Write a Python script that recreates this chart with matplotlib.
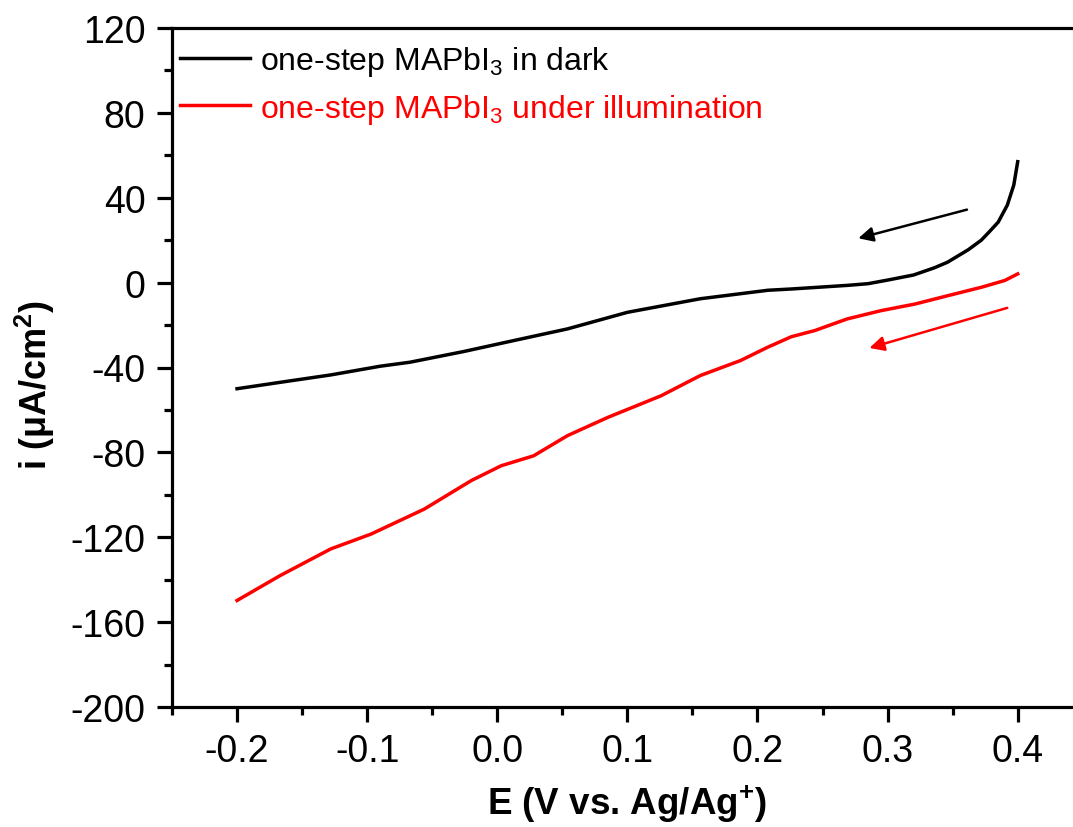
import matplotlib
matplotlib.use("Agg")
import matplotlib.pyplot as plt
from matplotlib.ticker import MultipleLocator

plt.rcParams['font.family'] = ['Liberation Sans', 'DejaVu Sans']
plt.rcParams['mathtext.default'] = 'regular'
plt.rcParams['axes.unicode_minus'] = False

# Linear sweep voltammetry, potential (V vs. Ag/Ag+) and current density (uA/cm2)
E_dark = [-0.200, -0.167, -0.128, -0.090, -0.067, -0.026, 0.006, 0.054,
          0.100, 0.156, 0.208, 0.226, 0.269, 0.285, 0.300, 0.320, 0.336, 0.346,
          0.362, 0.372, 0.379, 0.385, 0.392, 0.397, 0.400]
i_dark = [-50.0, -47.0, -43.5, -39.4, -37.5, -32.5, -28.2, -21.8,
          -14.0, -7.6, -3.6, -3.0, -1.3, -0.5, 1.2, 3.6, 7.0, 9.6,
          15.5, 20.0, 24.5, 28.5, 36.5, 46.0, 57.0]

E_light = [-0.200, -0.167, -0.128, -0.097, -0.056, -0.020, 0.003, 0.028, 0.054,
           0.085, 0.126, 0.156, 0.187, 0.208, 0.226, 0.244, 0.269, 0.295, 0.321,
           0.346, 0.372, 0.390, 0.400]
i_light = [-149.8, -138.1, -125.5, -118.5, -106.7, -93.3, -86.3, -81.6, -72.1,
           -63.5, -53.3, -43.8, -36.7, -30.4, -25.5, -22.6, -17.1, -13.2, -10.1,
           -6.2, -2.2, 1.0, 4.1]

labels = ['one-step MAPbI$_\\mathregular{3}$ in dark',
          'one-step MAPbI$_\\mathregular{3}$ under illumination']
colors = ['black', 'red']

# Scan-direction arrows: (tail E, tail i, head E, head i)
arrows = [(0.361, 34.4, 0.2775, 20.9),
          (0.392, -11.9, 0.286, -30.8)]

fig = plt.figure(figsize=(10.73, 8.28), dpi=100)
ax = fig.add_axes([172 / 1073, 1 - 708 / 828, 1 - 172 / 1073, (708 - 29) / 828])

ax.plot(E_dark, i_dark, color=colors[0], lw=2.5, label=labels[0])
ax.plot(E_light, i_light, color=colors[1], lw=2.5, label=labels[1])

for (x0, y0, x1, y1), c in zip(arrows, colors):
    ax.annotate('', xy=(x1, y1), xytext=(x0, y0),
                arrowprops=dict(arrowstyle='-|>', color=c, lw=1.8,
                                mutation_scale=22, shrinkA=0, shrinkB=0))

ax.set_xlim(-0.25, 0.4425)
ax.set_ylim(-200, 120)
ax.xaxis.set_major_locator(MultipleLocator(0.1))
ax.xaxis.set_minor_locator(MultipleLocator(0.05))
ax.yaxis.set_major_locator(MultipleLocator(40))
ax.yaxis.set_minor_locator(MultipleLocator(20))
ax.xaxis.set_major_formatter(plt.FuncFormatter(lambda v, p: f"{v:.1f}".replace('-0.0', '0.0')))

for s in ['left', 'bottom', 'top']:
    ax.spines[s].set_linewidth(2.3)
ax.spines['right'].set_visible(False)

ax.tick_params(axis='both', which='major', direction='out', length=11, width=2.3,
               labelsize=27, pad=8)
ax.tick_params(axis='both', which='minor', direction='out', length=6, width=2.3)
ax.tick_params(axis='x', which='both', top=False)

ax.set_xlabel('E (V vs. Ag/Ag$^\\mathregular{+}$)', fontsize=26.5, fontweight='bold')
ax.set_ylabel('i (μA/cm$^\\mathregular{2}$)', fontsize=26, fontweight='bold')
ax.xaxis.label.set_va('baseline')
ax.xaxis.set_label_coords(0.505, -0.158)
ax.yaxis.label.set_va('center')
ax.yaxis.set_label_coords(-0.152, 0.476)

leg = ax.legend(loc='upper left', bbox_to_anchor=(0.0, 0.988), frameon=False,
                fontsize=23, handlelength=2.2, handletextpad=0.32,
                labelspacing=0.42, borderaxespad=0.15, borderpad=0.1)
for txt, c in zip(leg.get_texts(), colors):
    txt.set_color(c)
for ln in leg.get_lines():
    ln.set_linewidth(2.5)

fig.savefig('out.png', dpi=100)
